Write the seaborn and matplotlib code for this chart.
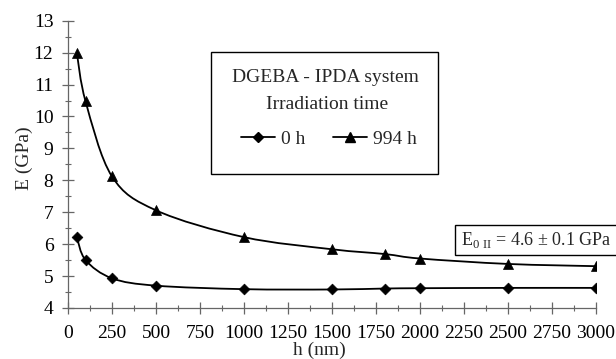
import numpy as np
import pandas as pd
import matplotlib
matplotlib.use("Agg")
import matplotlib.pyplot as plt
from matplotlib.path import Path
from matplotlib.patches import PathPatch, Rectangle
from matplotlib.lines import Line2D
from matplotlib.ticker import MultipleLocator
import seaborn as sns

# Indentation depth (nm) and Young's modulus (GPa)
h_nm = [50, 100, 250, 500, 1000, 1500, 1800, 2000, 2500, 3000]
e_0h = [6.22, 5.50, 4.93, 4.70, 4.59, 4.58, 4.61, 4.62, 4.63, 4.63]
e_994h = [12.0, 10.47, 8.12, 7.06, 6.22, 5.84, 5.69, 5.55, 5.38, 5.31]
series_labels = ["0 h", "994 h"]
x_ticks = list(range(0, 3001, 250))
y_ticks = list(range(4, 14))

df = pd.concat([
    pd.DataFrame({"h": h_nm, "E": e_0h, "series": series_labels[0]}),
    pd.DataFrame({"h": h_nm, "E": e_994h, "series": series_labels[1]}),
])

sns.set_style("ticks")
plt.rcParams["font.family"] = ["Liberation Serif", "DejaVu Serif"]
plt.rcParams["mathtext.fontset"] = "custom"
plt.rcParams["mathtext.rm"] = "Liberation Serif"

fig = plt.figure(figsize=(6.16, 3.59), dpi=100)
ax = fig.add_axes([68 / 616, 51 / 359, 528 / 616, 287.3 / 359])


def smooth_path(xs, ys):
    """Catmull-Rom style Bezier curve through the data points."""
    pts = np.column_stack([xs, ys]).astype(float)
    n = len(pts)
    verts = [pts[0]]
    codes = [Path.MOVETO]
    for i in range(n - 1):
        p0 = pts[max(i - 1, 0)]
        p1 = pts[i]
        p2 = pts[i + 1]
        p3 = pts[min(i + 2, n - 1)]
        c1 = p1 + (p2 - p0) / 6.0
        c2 = p2 - (p3 - p1) / 6.0
        verts += [c1, c2, p2]
        codes += [Path.CURVE4] * 3
    return Path(verts, codes)


for vals in (e_0h, e_994h):
    ax.add_patch(PathPatch(smooth_path(h_nm, vals), facecolor="none",
                           edgecolor="black", lw=1.3, zorder=2))

marker_map = {series_labels[0]: "D", series_labels[1]: "^"}
sns.scatterplot(data=df[df.series == series_labels[0]], x="h", y="E",
                marker="D", color="black", s=30, edgecolor="black",
                linewidth=0.5, legend=False, ax=ax, zorder=3)
sns.scatterplot(data=df[df.series == series_labels[1]], x="h", y="E",
                marker="^", color="black", s=52, edgecolor="black",
                linewidth=0.5, legend=False, ax=ax, zorder=3)

ax.set_xlim(0, 3000)
ax.set_ylim(4, 13)
ax.set_xticks(x_ticks)
ax.set_yticks(y_ticks)
ax.xaxis.set_minor_locator(MultipleLocator(125))
ax.yaxis.set_minor_locator(MultipleLocator(0.5))
axis_grey = "#666666"
for side in ("top", "right"):
    ax.spines[side].set_visible(False)
for side in ("left", "bottom"):
    ax.spines[side].set_color(axis_grey)
    ax.spines[side].set_linewidth(0.9)
ax.tick_params(which="major", direction="inout", length=9, width=0.9,
               color=axis_grey, labelsize=14, labelcolor="black")
ax.tick_params(which="minor", direction="inout", length=5, width=0.8,
               color=axis_grey)
ax.tick_params(axis="x", which="major", pad=8)
ax.tick_params(axis="y", which="major", pad=6)

ax.set_xlabel("h (nm)", fontsize=14)
ax.set_ylabel("E (GPa)", fontsize=14)
ax.xaxis.set_label_coords(0.477, -0.118)
ax.yaxis.set_label_coords(-0.066, 0.52)

# Legend panel
fig.patches.append(Rectangle((211 / 616, 1 - 174 / 359), 227 / 616, 122 / 359,
                             transform=fig.transFigure, facecolor="white",
                             edgecolor="black", lw=1.0, zorder=5))
fig.text(325 / 616, 1 - 78 / 359, "DGEBA - IPDA system", ha="center",
         va="center", fontsize=14, zorder=6)
fig.text(327 / 616, 1 - 104 / 359, "Irradiation time", ha="center",
         va="center", fontsize=14, zorder=6)
handles = [Line2D([], [], color="black", lw=1.3, marker=marker_map[s],
                  markersize=5.5 if s == series_labels[0] else 7)
           for s in series_labels]
leg = fig.legend(handles, series_labels, loc="center",
                 bbox_to_anchor=(329 / 616, 1 - 139 / 359), ncol=2,
                 frameon=False, fontsize=14, handlelength=1.75,
                 handletextpad=0.3, columnspacing=1.4)
leg.set_zorder(7)

# Reference modulus annotation
fig.text(536 / 616, 1 - 240 / 359,
         r"E$_{\mathrm{0\ II}}$ = 4.6 $\pm$ 0.1 GPa", ha="center",
         va="center", fontsize=13,
         bbox=dict(boxstyle="square,pad=0.3", facecolor="white",
                   edgecolor="black", lw=1.0))

fig.savefig("out.png", dpi=100)
